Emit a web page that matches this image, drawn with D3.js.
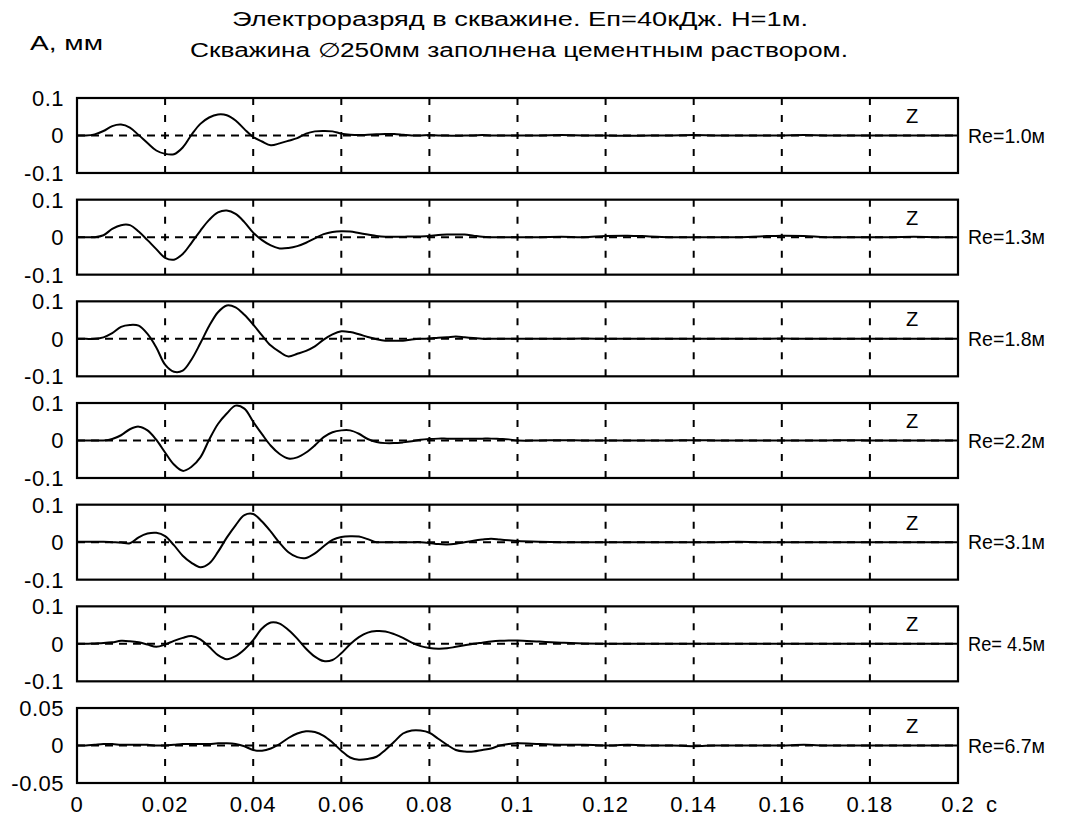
<!DOCTYPE html>
<html>
<head>
<meta charset="utf-8">
<title>Электроразряд в скважине</title>
<script src="https://cdn.jsdelivr.net/npm/d3@7"></script>
<style>
    body { margin: 0; background: #fff; }
    text { font-family: "Liberation Sans", Arial, sans-serif; fill: #000; }
</style>
</head>
<body>
<script>
    // time of each sample, ms (2 ms steps up to 100 ms, then 5 ms)
    var timeMs = [0, 2, 4, 6, 8, 10, 12, 14, 16, 18, 20, 22, 24, 26, 28, 30, 32, 34, 36, 38,
        40, 42, 44, 46, 48, 50, 52, 54, 56, 58, 60, 62, 64, 66, 68, 70, 72, 74, 76, 78,
        80, 82, 84, 86, 88, 90, 92, 94, 96, 98, 100,
        105, 110, 115, 120, 125, 130, 135, 140, 145, 150, 155, 160, 165, 170, 175, 180, 185, 190, 195, 200];

    // displacement A, mm - one array per distance Re
    var re10 = [0, 0, 0.003, 0.012, 0.025, 0.029, 0.021, 0.001, -0.020, -0.040,
        -0.049, -0.050, -0.032, 0.002, 0.031, 0.048, 0.056, 0.054, 0.040, 0.017,
        -0.004, -0.016, -0.026, -0.021, -0.014, -0.007, 0.005, 0.011, 0.012, 0.011,
        0.005, 0.002, 0.001, 0.002, 0.003, 0.004, 0.004, 0.002, 0, 0,
        0.001, 0, 0, -0.001, 0, 0, 0.001, 0, 0, 0, 0,
        0, 0.001, 0, 0, -0.001, 0, 0, 0.001, 0, 0, 0, 0, 0.001, 0, 0, 0, 0, 0, 0, 0];
    var re13 = [0, 0, 0, 0.005, 0.022, 0.032, 0.032, 0.015, -0.008, -0.032,
        -0.055, -0.060, -0.045, -0.015, 0.017, 0.046, 0.066, 0.071, 0.062, 0.040,
        0.012, -0.008, -0.022, -0.030, -0.029, -0.024, -0.015, -0.003, 0.008, 0.014,
        0.016, 0.015, 0.011, 0.007, 0.003, 0.001, 0.001, 0.001, 0.002, 0.002,
        0.003, 0.006, 0.007, 0.007, 0.007, 0.004, 0.001, 0, 0, 0, 0,
        0, 0.001, 0, 0.003, 0.004, 0.002, 0, 0, 0, 0, 0.002, 0.004, 0.003, 0, 0, 0, 0, 0.001, 0, 0];
    var re18 = [0, 0, 0, 0.004, 0.015, 0.032, 0.037, 0.035, 0.013, -0.023,
        -0.069, -0.088, -0.085, -0.055, -0.012, 0.034, 0.071, 0.089, 0.084, 0.064,
        0.038, 0.009, -0.018, -0.035, -0.047, -0.040, -0.032, -0.020, -0.002, 0.012,
        0.020, 0.018, 0.012, 0.005, -0.001, -0.005, -0.005, -0.005, -0.002, 0,
        0.001, 0.003, 0.004, 0.006, 0.004, 0.002, 0, 0, 0, 0, 0,
        0, 0, 0.001, 0, 0, 0, 0, 0, 0, 0, 0, 0.001, 0, 0, 0, 0, 0, 0, 0, 0];
    var re22 = [0, 0, 0, 0, 0.004, 0.014, 0.030, 0.037, 0.027, 0.002,
        -0.032, -0.064, -0.081, -0.070, -0.045, 0.002, 0.044, 0.072, 0.093, 0.085,
        0.050, 0.017, -0.014, -0.036, -0.048, -0.045, -0.032, -0.013, 0.009, 0.022,
        0.027, 0.027, 0.018, 0.004, -0.004, -0.007, -0.007, -0.005, -0.002, 0.002,
        0.004, 0.005, 0.005, 0.005, 0.005, 0.005, 0.005, 0.005, 0.004, 0.003, 0,
        0, 0.001, 0, 0, 0, 0, 0, 0.001, 0, 0, 0, 0, 0, 0, 0.001, 0, 0, 0, 0, 0];
    var re31 = [0.001, 0.001, 0.001, 0.001, 0, -0.001, -0.003, 0.013, 0.023, 0.025,
        0.016, -0.008, -0.036, -0.055, -0.067, -0.057, -0.026, 0.012, 0.045, 0.072,
        0.075, 0.055, 0.028, -0.002, -0.027, -0.040, -0.042, -0.030, -0.011, 0.006,
        0.014, 0.016, 0.015, 0.008, 0, 0, 0, 0, 0, 0,
        -0.002, -0.005, -0.006, -0.004, 0, 0.004, 0.007, 0.009, 0.007, 0.005, 0.003,
        0.001, 0, 0, 0, 0, 0, 0, 0, 0, 0.001, 0, 0, 0, 0, 0, 0, 0, 0, 0, 0];
    var re45 = [0, 0, 0.001, 0.002, 0.004, 0.008, 0.007, 0.004, -0.002, -0.008,
        -0.002, 0.008, 0.016, 0.021, 0.012, -0.008, -0.030, -0.041, -0.033, -0.015,
        0.010, 0.041, 0.057, 0.054, 0.037, 0.014, -0.013, -0.034, -0.046, -0.043,
        -0.025, -0.001, 0.018, 0.030, 0.034, 0.033, 0.026, 0.016, 0.003, -0.006,
        -0.011, -0.013, -0.012, -0.008, -0.004, 0, 0.003, 0.006, 0.008, 0.009, 0.009,
        0.006, 0.003, 0.001, 0, 0, 0, 0, 0, 0, 0, 0, 0, 0, 0, 0, 0, 0, 0, 0, 0];
    var re67 = [0, 0, 0.001, 0.002, 0.002, 0.001, 0.001, 0.001, 0.001, 0,
        0, 0.001, 0.002, 0.002, 0.002, 0.002, 0.003, 0.003, 0.002, -0.001,
        -0.006, -0.007, -0.004, 0.002, 0.010, 0.016, 0.019, 0.018, 0.013, 0.004,
        -0.007, -0.016, -0.019, -0.018, -0.015, -0.006, 0.005, 0.016, 0.020, 0.020,
        0.017, 0.009, 0.001, -0.006, -0.008, -0.008, -0.006, -0.004, 0, 0.002, 0.003,
        0.002, 0.001, 0.001, 0, 0.001, 0, 0, -0.001, 0, 0, 0, 0, 0.001, 0, 0, 0, 0, 0, 0, 0];

    var series = [re10, re13, re18, re22, re31, re45, re67];
    var panelLabels = ["Re=1.0м", "Re=1.3м", "Re=1.8м", "Re=2.2м", "Re=3.1м", "Re= 4.5м", "Re=6.7м"];
    var yLimits = [0.1, 0.1, 0.1, 0.1, 0.1, 0.1, 0.05];
    var yTickLabels = [["0.1", "0", "-0.1"], ["0.1", "0", "-0.1"], ["0.1", "0", "-0.1"], ["0.1", "0", "-0.1"],
        ["0.1", "0", "-0.1"], ["0.1", "0", "-0.1"], ["0.05", "0", "-0.05"]];
    var xTicks = [0, 0.02, 0.04, 0.06, 0.08, 0.1, 0.12, 0.14, 0.16, 0.18, 0.2];
    var xTickLabels = ["0", "0.02", "0.04", "0.06", "0.08", "0.1", "0.12", "0.14", "0.16", "0.18", "0.2"];

    var width = 1088, height = 821;
    var left = 77, right = 958;
    var svg = d3.select("body").append("svg").attr("width", width).attr("height", height);

    var x = d3.scaleLinear().domain([0, 0.2]).range([left, right]);
    var band = d3.scaleBand().domain(d3.range(series.length)).range([98, 783]).paddingInner(0.2625).paddingOuter(0);

    // titles
    svg.append("text").text("Электроразряд в скважине.  Еп=40кДж. Н=1м.")
        .attr("x", 232).attr("y", 26).attr("font-size", "20px")
        .attr("textLength", 576).attr("lengthAdjust", "spacingAndGlyphs");
    svg.append("text").text("Скважина ∅250мм  заполнена цементным раствором.")
        .attr("x", 190).attr("y", 57).attr("font-size", "20px")
        .attr("textLength", 658).attr("lengthAdjust", "spacingAndGlyphs");
    svg.append("text").text("А, мм")
        .attr("x", 30).attr("y", 50).attr("font-size", "20px")
        .attr("textLength", 73).attr("lengthAdjust", "spacingAndGlyphs");

    var line = d3.line().curve(d3.curveCatmullRom);

    series.forEach(function (vals, i) {
        var top = band(i), h = band.bandwidth();
        var y = d3.scaleLinear().domain([-yLimits[i], yLimits[i]]).range([top + h, top]);
        var g = svg.append("g");

        // dashed grid
        g.selectAll("line.vgrid").data(xTicks.slice(1, -1)).enter().append("line")
            .attr("x1", d => x(d)).attr("x2", d => x(d))
            .attr("y1", top).attr("y2", top + h)
            .attr("stroke", "#000").attr("stroke-width", 2).attr("stroke-dasharray", "7,10");
        g.append("line")
            .attr("x1", left).attr("x2", right).attr("y1", y(0)).attr("y2", y(0))
            .attr("stroke", "#000").attr("stroke-width", 2).attr("stroke-dasharray", "8,6");

        // signal
        g.append("path")
            .attr("d", line(vals.map((v, k) => [x(timeMs[k] / 1000), y(v)])))
            .attr("fill", "none").attr("stroke", "#000").attr("stroke-width", 2);

        // frame
        g.append("rect").attr("x", left).attr("y", top).attr("width", right - left).attr("height", h)
            .attr("fill", "none").attr("stroke", "#000").attr("stroke-width", 2.2);

        // y tick labels
        g.selectAll("text.yt").data([yLimits[i], 0, -yLimits[i]]).enter().append("text")
            .text((d, k) => yTickLabels[i][k])
            .attr("x", 64).attr("y", d => y(d)).attr("dy", "0.36em")
            .attr("text-anchor", "end").attr("font-size", "22px").attr("letter-spacing", "0.5px");

        g.append("text").text("Z")
            .attr("x", 912).attr("y", top + 25).attr("text-anchor", "middle").attr("font-size", "20px");
        g.append("text").text(panelLabels[i])
            .attr("x", 968).attr("y", y(0)).attr("dy", "0.36em").attr("font-size", "20px")
            .attr("textLength", 77).attr("lengthAdjust", "spacingAndGlyphs");
    });

    // x tick labels
    svg.append("g").selectAll("text").data(xTicks).enter().append("text")
        .text((d, i) => xTickLabels[i])
        .attr("x", d => x(d)).attr("y", 812)
        .attr("text-anchor", "middle").attr("font-size", "22px").attr("letter-spacing", "1px");
    svg.append("text").text("с").attr("x", 986).attr("y", 812).attr("font-size", "22px");
</script>
</body>
</html>
